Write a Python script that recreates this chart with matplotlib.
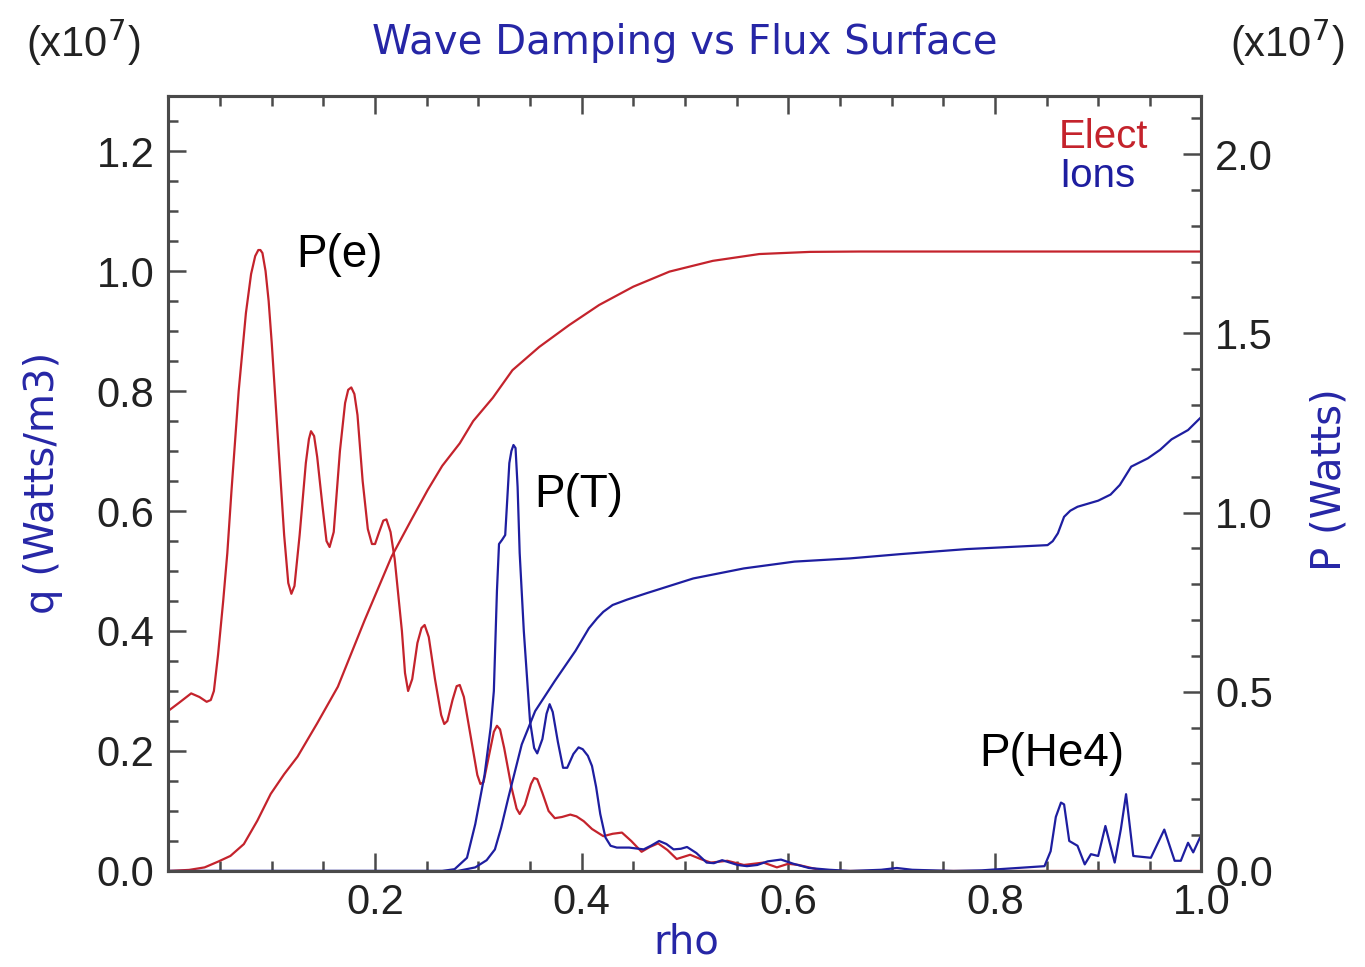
import matplotlib
matplotlib.use("Agg")
import matplotlib.pyplot as plt
from matplotlib.ticker import MultipleLocator, FixedLocator, FormatStrFormatter
import numpy as np

#==============================================================================
# data
#==============================================================================
# electron power density q_e (left axis, x1e7 W/m3)
rho_qe = [0.0, 0.01, 0.022, 0.03, 0.037, 0.041, 0.044, 0.048, 0.053, 0.057,
          0.061, 0.068, 0.075, 0.08, 0.084, 0.087, 0.089, 0.091, 0.094, 0.097,
          0.1, 0.106, 0.112, 0.116, 0.119, 0.122, 0.127, 0.133, 0.136, 0.138,
          0.141, 0.144, 0.149, 0.153, 0.156, 0.16, 0.166, 0.171, 0.174, 0.177,
          0.18, 0.183, 0.188, 0.193, 0.197, 0.2, 0.204, 0.208, 0.211, 0.215,
          0.219, 0.226, 0.229, 0.232, 0.236, 0.241, 0.245, 0.248, 0.252, 0.258,
          0.264, 0.267, 0.27, 0.275, 0.279, 0.282, 0.286, 0.293, 0.299, 0.302,
          0.305, 0.31, 0.315, 0.318, 0.321, 0.325, 0.332, 0.337, 0.34, 0.345,
          0.351, 0.354, 0.357, 0.362, 0.368, 0.374, 0.381, 0.389, 0.395, 0.402,
          0.41, 0.421, 0.43, 0.439, 0.448, 0.458, 0.466, 0.474, 0.483, 0.492,
          0.505, 0.515, 0.525, 0.541, 0.557, 0.576, 0.589, 0.6, 0.61, 0.63,
          0.65, 1.0]
q_elec = [0.267, 0.28, 0.296, 0.29, 0.282, 0.285, 0.30, 0.36, 0.45, 0.53,
          0.633, 0.80, 0.93, 0.995, 1.025, 1.035, 1.035, 1.03, 1.0, 0.95,
          0.88, 0.72, 0.56, 0.48, 0.462, 0.475, 0.56, 0.68, 0.72, 0.733,
          0.725, 0.69, 0.61, 0.55, 0.54, 0.565, 0.70, 0.78, 0.802, 0.806,
          0.795, 0.76, 0.65, 0.57, 0.545, 0.545, 0.565, 0.584, 0.586, 0.565,
          0.52, 0.40, 0.33, 0.30, 0.32, 0.38, 0.405, 0.41, 0.39, 0.32,
          0.26, 0.245, 0.25, 0.285, 0.308, 0.31, 0.29, 0.22, 0.16, 0.145,
          0.148, 0.19, 0.232, 0.242, 0.236, 0.205, 0.14, 0.104, 0.095, 0.11,
          0.145, 0.155, 0.153, 0.13, 0.10, 0.088, 0.09, 0.094, 0.091, 0.083,
          0.07, 0.058, 0.062, 0.064, 0.05, 0.032, 0.04, 0.046, 0.035, 0.02,
          0.027, 0.02, 0.014, 0.017, 0.01, 0.014, 0.006, 0.012, 0.01, 0.002,
          0.0, 0.0]

# ion power density q_i (left axis)
rho_qi = [0.0, 0.265, 0.277, 0.289, 0.297, 0.306, 0.312, 0.315, 0.318, 0.32,
          0.323, 0.326, 0.33, 0.332, 0.334, 0.336, 0.338, 0.34, 0.344, 0.35,
          0.354, 0.357, 0.362, 0.366, 0.369, 0.372, 0.377, 0.382, 0.386, 0.392,
          0.397, 0.401, 0.406, 0.41, 0.414, 0.418, 0.423, 0.428, 0.434, 0.446,
          0.46, 0.467, 0.475, 0.482, 0.489, 0.496, 0.502, 0.511, 0.521, 0.528,
          0.536, 0.551, 0.56, 0.57, 0.58, 0.593, 0.605, 0.62, 0.64, 0.66, 0.69,
          0.705, 0.72, 0.76, 0.787, 0.848, 0.854, 0.859, 0.864, 0.867, 0.872,
          0.88, 0.887, 0.893, 0.9, 0.907, 0.916, 0.922, 0.927, 0.934, 0.951,
          0.964, 0.974, 0.98, 0.987, 0.992, 1.0]
q_ions = [0.0, 0.0, 0.003, 0.022, 0.078, 0.16, 0.24, 0.30, 0.467, 0.545,
          0.552, 0.56, 0.68, 0.7, 0.71, 0.705, 0.64, 0.53, 0.40, 0.25,
          0.205, 0.196, 0.22, 0.262, 0.278, 0.265, 0.215, 0.172, 0.172, 0.195,
          0.206, 0.203, 0.192, 0.175, 0.14, 0.095, 0.056, 0.042, 0.039, 0.039,
          0.036, 0.042, 0.05, 0.045, 0.036, 0.037, 0.04, 0.03, 0.014, 0.013,
          0.018, 0.01, 0.008, 0.01, 0.016, 0.019, 0.012, 0.005, 0.002, 0.0,
          0.002, 0.005, 0.002, 0.0, 0.001, 0.008, 0.033, 0.09, 0.114, 0.111,
          0.05, 0.042, 0.011, 0.028, 0.025, 0.075, 0.014, 0.07, 0.128, 0.025,
          0.022, 0.069, 0.017, 0.017, 0.047, 0.031, 0.061]

# integrated electron power P_e (right axis, x1e7 W)
rho_pe = [0.0, 0.02, 0.035, 0.048, 0.06, 0.073, 0.086, 0.099, 0.112, 0.125,
          0.144, 0.164, 0.19, 0.216, 0.235, 0.251, 0.265, 0.282, 0.295, 0.314,
          0.333, 0.359, 0.388, 0.417, 0.45, 0.485, 0.527, 0.572, 0.621, 0.669,
          1.0]
p_elec = [0.0, 0.003, 0.01, 0.026, 0.042, 0.075, 0.14, 0.215, 0.27, 0.319,
          0.412, 0.514, 0.70, 0.877, 0.979, 1.063, 1.13, 1.193, 1.255, 1.32,
          1.397, 1.462, 1.523, 1.579, 1.63, 1.672, 1.702, 1.721, 1.727, 1.728,
          1.728]

# integrated ion power P_i (right axis)
rho_pi = [0.0, 0.28, 0.297, 0.308, 0.316, 0.322, 0.329, 0.342, 0.355, 0.374,
          0.394, 0.407, 0.415, 0.421, 0.43, 0.444, 0.463, 0.508, 0.557, 0.606,
          0.66, 0.709, 0.773, 0.851, 0.856, 0.861, 0.867, 0.873, 0.88, 0.9,
          0.912, 0.921, 0.932, 0.948, 0.96, 0.971, 0.987, 1.0]
p_ions = [0.0, 0.0, 0.01, 0.03, 0.06, 0.12, 0.204, 0.353, 0.446, 0.53,
          0.614, 0.677, 0.705, 0.723, 0.742, 0.757, 0.775, 0.816, 0.844, 0.863,
          0.872, 0.884, 0.898, 0.909, 0.92, 0.942, 0.988, 1.005, 1.016, 1.033,
          1.05, 1.077, 1.128, 1.151, 1.175, 1.204, 1.23, 1.267]

xticks_major = [0.2, 0.4, 0.6, 0.8, 1.0]

#==============================================================================
# styles
#==============================================================================
red = "#c4232c"
blue = "#1e1ea0"
txtblue = "#2626a6"
axcol = "#4a4a4a"

plt.rcParams["font.family"] = ["Liberation Sans", "DejaVu Sans"]

fig = plt.figure(figsize=(13.65, 9.67), dpi=100)
ax = fig.add_axes([0.1234, 0.0993, 0.7568, 0.8014])
ax2 = ax.twinx()

kw = dict(lw=1.6, solid_joinstyle="round")
ax.plot(rho_qe, q_elec, color=red, **kw)
ax.plot(rho_qi, q_ions, color=blue, **kw)
ax2.plot(rho_pe, p_elec, color=red, **kw)
ax2.plot(rho_pi, p_ions, color=blue, **kw)

ax.set_xlim(0, 1.0)
ax.set_ylim(0, 1.2917)
ax2.set_ylim(0, 2.1618)

ax.xaxis.set_major_locator(FixedLocator(xticks_major))
ax.xaxis.set_minor_locator(MultipleLocator(0.05))
ax.yaxis.set_major_locator(MultipleLocator(0.2))
ax.yaxis.set_minor_locator(MultipleLocator(0.05))
ax2.yaxis.set_major_locator(MultipleLocator(0.5))
ax2.yaxis.set_minor_locator(MultipleLocator(0.1))
for a in (ax.xaxis, ax.yaxis, ax2.yaxis):
    a.set_major_formatter(FormatStrFormatter("%.1f"))

ax.tick_params(axis="x", which="both", direction="in", top=True, bottom=True,
               labelsize=30, pad=9, colors="#222222")
ax.tick_params(axis="y", which="both", direction="in", left=True, right=False,
               labelsize=30, pad=10, colors="#222222")
ax2.tick_params(axis="y", which="both", direction="in", right=True, left=False,
                labelsize=30, pad=10, colors="#222222")
for a in (ax, ax2):
    a.tick_params(which="major", length=13, width=1.8, color=axcol)
    a.tick_params(which="minor", length=7, width=1.8, color=axcol)
    for s in a.spines.values():
        s.set_linewidth(2.2)
        s.set_color(axcol)

# curve labels
ax.text(0.124, 1.007, "P(e)", fontsize=33, color="black")
ax.text(0.354, 0.607, "P(T)", fontsize=33, color="black")
ax.text(0.785, 0.175, "P(He4)", fontsize=33, color="black")
ax.text(0.862, 1.205, "Elect", fontsize=29, color=red)
ax.text(0.862, 1.14, "Ions", fontsize=29, color=blue)

# titles and axis labels
W, H = 1365.0, 967.0
fig.text(685 / W, 1 - 43 / H, "Wave Damping vs Flux Surface", fontsize=29,
         color=txtblue, family="DejaVu Sans", ha="center", va="center")
fig.text(686 / W, 1 - 963 / H, "rho", fontsize=29, color=txtblue,
         family="DejaVu Sans", ha="center", va="bottom")
fig.text(43 / W, 1 - 483 / H, "q (Watts/m3)", fontsize=29, color=txtblue,
         family="DejaVu Sans", ha="center", va="center", rotation=90)
fig.text(1330 / W, 1 - 480 / H, "P (Watts)", fontsize=29, color=txtblue,
         family="DejaVu Sans", ha="center", va="center", rotation=90)
fig.text(83 / W, 1 - 43 / H, r"(x10$^7$)", fontsize=30, color="#222222",
         ha="center", va="center")
fig.text(1287 / W, 1 - 43 / H, r"(x10$^7$)", fontsize=30, color="#222222",
         ha="center", va="center")

plt.savefig("out.png", dpi=100)
